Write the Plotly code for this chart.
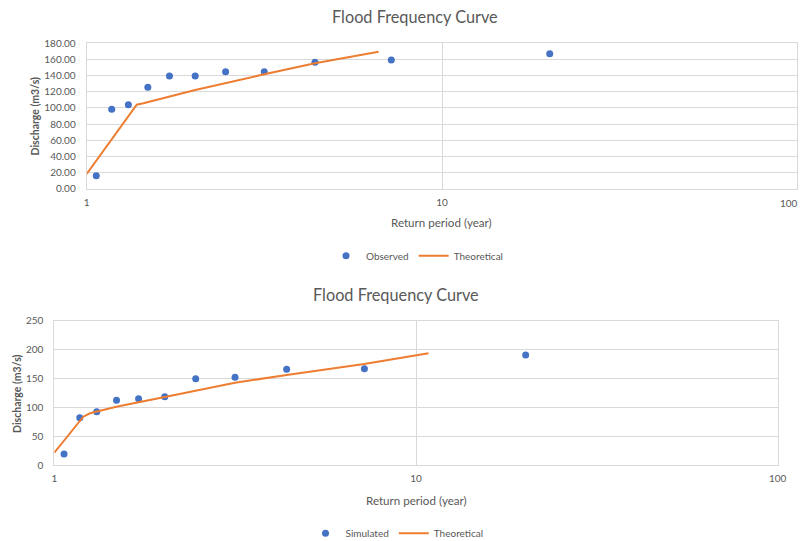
import plotly.graph_objects as go

# ---- data ----
return_period = [1.064, 1.176, 1.31, 1.486, 1.71, 2.02, 2.46, 3.16, 4.39, 7.2, 20.1]
observed = [16.1, 98.3, 104.0, 125.5, 139.5, 139.5, 144.8, 144.8, 156.5, 159.3, 167.1]
simulated = [19.1, 81.9, 92.4, 112.0, 114.9, 118.4, 149.6, 151.9, 165.7, 166.9, 190.6]

theo1_T = [1.0, 1.383, 1.444, 2.02, 3.16, 4.39, 6.63]
theo1_Q = [18.2, 104.0, 105.7, 122.2, 141.6, 155.2, 169.6]

theo2_T = [1.0, 1.203, 1.255, 1.484, 2.02, 3.16, 4.39, 7.19, 10.83]
theo2_Q = [21.3, 83.7, 89.6, 101.0, 117.7, 142.6, 155.9, 175.0, 193.5]

x_tickvals = [1, 10, 100]
x_ticktext = ["1", "10", "100"]

title_text = "Flood Frequency Curve"
x_title = "Return period (year)"
y_title = "Discharge (m3/s)"

W, H = 809, 541
OFF = 8  # page body margin
ML, MR, MT, MB = 16, 8, 16, 30
FONT = "Lato, Open Sans, sans-serif"
GREY = "#595959"
GRID = "#d9d9d9"
BLUE = "#4472C4"
ORANGE = "#ED7D31"

def px(x):
    return (x - OFF - ML) / (W - ML - MR)

def py(y):
    return 1 - (y - OFF - MT) / (H - MT - MB)

fig = go.Figure()
fig.add_trace(go.Scatter(x=return_period, y=observed, mode="markers", name="Observed",
                         marker=dict(color=BLUE, size=7), xaxis="x", yaxis="y", legend="legend"))
fig.add_trace(go.Scatter(x=theo1_T, y=theo1_Q, mode="lines", name="Theoretical",
                         line=dict(color=ORANGE, width=2), xaxis="x", yaxis="y", legend="legend"))
fig.add_trace(go.Scatter(x=return_period, y=simulated, mode="markers", name="Simulated",
                         marker=dict(color=BLUE, size=7), xaxis="x2", yaxis="y2", legend="legend2"))
fig.add_trace(go.Scatter(x=theo2_T, y=theo2_Q, mode="lines", name="Theoretical",
                         line=dict(color=ORANGE, width=2), xaxis="x2", yaxis="y2", legend="legend2"))

xcommon = dict(type="log", range=[0, 2], tickmode="array", tickvals=x_tickvals,
               showgrid=True, gridcolor=GRID, gridwidth=1,
               showline=True, linecolor=GRID, mirror=True, zeroline=False, automargin=False,
               tickfont=dict(family=FONT, size=10, color=GREY), ticks="", ticklabelstandoff=4)
ycommon = dict(showgrid=True, gridcolor=GRID, gridwidth=1, showline=True, linecolor=GRID,
               mirror=True, zeroline=False, ticks="", automargin=False,
               tickfont=dict(family=FONT, size=10, color=GREY), ticklabelstandoff=8)

fig.update_layout(
    width=W, height=H,
    margin=dict(l=ML, r=MR, t=MT, b=MB, autoexpand=False),
    paper_bgcolor="white", plot_bgcolor="white",
    font=dict(family=FONT, color=GREY),
    # the last top tick label would be clipped at the window edge, so it is drawn as an annotation
    xaxis=dict(domain=[px(86.7), px(797.3)], anchor="y",
               ticktext=x_ticktext[:-1] + [""], **xcommon),
    yaxis=dict(domain=[py(188.7), py(43.3)], anchor="x", range=[0, 180], dtick=20,
               tickformat=".2f", **ycommon),
    xaxis2=dict(domain=[px(54.3), px(777.7)], anchor="y2", ticktext=x_ticktext, **xcommon),
    yaxis2=dict(domain=[py(465), py(320.7)], anchor="x2", range=[0, 250], dtick=50, **ycommon),
    legend=dict(orientation="h", x=px(417), y=py(255.7), xanchor="center", yanchor="middle",
                font=dict(family=FONT, size=10, color=GREY), bgcolor="rgba(0,0,0,0)"),
    legend2=dict(orientation="h", x=px(397), y=py(533.3), xanchor="center", yanchor="middle",
                 font=dict(family=FONT, size=10, color=GREY), bgcolor="rgba(0,0,0,0)"),
    showlegend=True,
)

ann = [
    dict(text=title_text, x=px(415), y=py(17), font=dict(size=16.3)),
    dict(text=title_text, x=px(396), y=py(294), font=dict(size=16.3)),
    dict(text=x_title, x=px(441.7), y=py(222.7), font=dict(size=11.6)),
    dict(text=x_title, x=px(416.7), y=py(500), font=dict(size=11.6)),
    dict(text="<b>" + y_title + "</b>", x=px(34.7), y=py(115.8), textangle=-90, font=dict(size=10.5)),
    dict(text="<b>" + y_title + "</b>", x=px(16.5), y=py(393.5), textangle=-90, font=dict(size=10.5)),
]
for a in ann:
    a.update(xref="paper", yref="paper", xanchor="center", yanchor="middle", showarrow=False)
    a["font"].update(family=FONT, color=GREY)
# last tick label of the top axis, right-aligned so it stays inside the window
ann.append(dict(text=x_ticktext[-1], x=px(800), y=py(203.3), xref="paper", yref="paper",
                xanchor="right", yanchor="middle", showarrow=False,
                font=dict(family=FONT, size=10, color=GREY)))
fig.update_layout(annotations=ann)

fig.write_html("out.html")
